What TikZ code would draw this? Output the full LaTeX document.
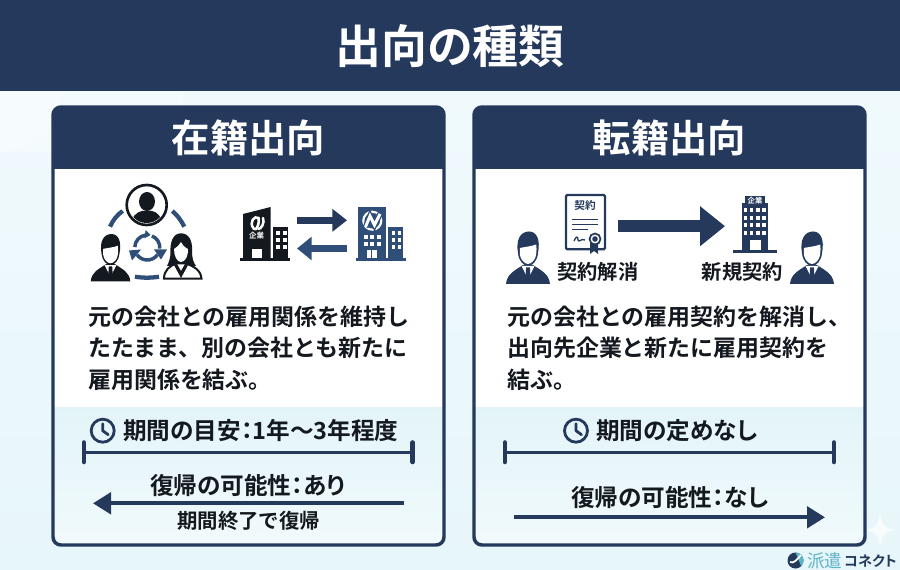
\documentclass[tikz,border=0pt]{standalone}
\usepackage{xcolor}
\usepackage{fontspec}
\setmainfont{Noto Sans CJK JP}[BoldFont={Noto Sans CJK JP Bold}]
\newfontfamily\jppalt{Noto Sans CJK JP Bold}[RawFeature={+palt}]
\usetikzlibrary{arrows.meta}
\definecolor{navy}{HTML}{24395C}
\definecolor{navyb}{HTML}{2F4F78}
\definecolor{ink}{HTML}{14181F}
\definecolor{pale}{HTML}{E7F6FA}
\definecolor{paletop}{HTML}{F0FAFD}
\definecolor{lowtop}{HTML}{E3F4F8}
\definecolor{lowend}{HTML}{F1FAFC}
\definecolor{tealog}{HTML}{5FB3C6}
\newcommand{\jpsize}[1]{\fontsize{#1}{#1}\selectfont}
\tikzset{
  bodytext/.style={anchor=west,inner sep=0pt,align=left,text=ink,font=\jpsize{17.2}\bfseries,execute at begin node={\setlength{\baselineskip}{23.6pt}}},
  midtext/.style={anchor=west,inner sep=0pt,text=ink,font=\jpsize{17.7}\jppalt},
  ruler/.style={navy,line width=2.6},
  tick/.style={navy,line width=3.4,line cap=round},
  thinarrow/.style={navy,line width=3,-{Triangle[length=13.5pt,width=16pt]}},
  ringarc/.style={navyb,line width=2.6},
  pics/busman/.style={code={
    \fill [#1] (-22,32) .. controls (-21,22) and (-14,19) .. (-5,13) -- (5,13) .. controls (14,19) and (21,22) .. (22,32) -- cycle ;
    \fill [#1] (-10,1) .. controls (-12.5,-13) and (-7,-20.5) .. (1,-20.5) .. controls (9,-20.5) and (12.5,-12) .. (10,1) .. controls (9.5,9) and (4,14) .. (0,14) .. controls (-4,14) and (-9.5,9) .. (-10,1) -- cycle ;
    \fill [white] (-8.2,-4) .. controls (-4,-5) and (3,-5.5) .. (8.2,-7.5) .. controls (8.8,-4) and (8.5,-2) .. (8.2,2) .. controls (7.8,8) and (3,12) .. (0,12) .. controls (-3,12) and (-7.8,8) .. (-8.2,2) -- cycle ;
    \fill [white] (-6.5,14) -- (6.5,14) -- (0,27) -- cycle ;
    \fill [#1] (-1.9,15.5) -- (1.9,15.5) -- (2.6,27) -- (0,31) -- (-2.6,27) -- cycle ;
  }},
  pics/clockicon/.style={code={
    \draw [navy,line width=2.1] (0,0) circle (11.5) ;
    \draw [navy,line width=2.1,line cap=round,line join=round] (0,-7) -- (0,0) -- (5.5,4) ;
  }},
}
\begin{document}
\begin{tikzpicture}[x=0.75pt,y=0.75pt,yscale=-1,xscale=1]
\useasboundingbox (0,0) rectangle (900,570);
%Shape: Background
\shade [top color=paletop,bottom color=pale] (0,91) rectangle (900,570);
\fill [white,opacity=0.3] (0,91) rectangle (183,152) ;
\fill [white,opacity=0.25] (0,91) -- (60,91) .. controls (60,130) and (30,152) .. (0,152) -- cycle ;
%Shape: Sparkle
\fill [white,opacity=0.75] (880,513) .. controls (881,524) and (884,529) .. (896,530) .. controls (884,531) and (881,536) .. (880,547) .. controls (879,536) and (876,531) .. (864,530) .. controls (876,529) and (879,524) .. (880,513) -- cycle ;
%Shape: Title band
\fill [navy] (0,0) rectangle (900,91);

%Left panel
\begin{scope}
\clip [rounded corners=6pt] (53,107) rectangle (444,545);
\fill [white] (53,107) rectangle (444,407);
\fill [navy] (53,107) rectangle (444,169);
\shade [top color=lowtop,bottom color=lowend] (53,407) rectangle (444,545);
\end{scope}
\draw [navy,line width=2.6,rounded corners=6pt] (53,107) rectangle (444,545);
%Right panel
\begin{scope}
\clip [rounded corners=6pt] (474,107) rectangle (865,545);
\fill [white] (474,107) rectangle (865,407);
\fill [navy] (474,107) rectangle (865,169);
\shade [top color=lowtop,bottom color=lowend] (474,407) rectangle (865,545);
\end{scope}
\draw [navy,line width=2.6,rounded corners=6pt] (474,107) rectangle (865,545);

%Three people, top person
\draw [ink,line width=2,fill=white] (146.7,205) circle (20) ;
\begin{scope}
\clip (146.7,205) circle (18) ;
\fill [ink] (147,201.5) ellipse (8 and 9.5) ;
\fill [ink] (130,228) .. controls (131,216) and (137,212) .. (142,211) -- (152,211) .. controls (157,212) and (162,216) .. (163,228) -- cycle ;
\end{scope}
%Ring dashes
\draw [navyb,line width=3.2] (110,226.7) .. controls (113,220) and (117,215) .. (122.7,211) ;
\draw [navyb,line width=3.2] (172.3,211) .. controls (177,215) and (181,220) .. (184.3,226.7) ;
\draw [navyb,line width=3.2] (135,276.7) .. controls (143,278) and (151,278) .. (159,276.7) ;
%Cycle arcs
\draw [ringarc] (147.3,247.5)++(182:12.5) arc [start angle=182,end angle=262,radius=12.5] ;
\draw [ringarc] (147.3,247.5)++(292:12.5) arc [start angle=292,end angle=365,radius=12.5] ;
\draw [ringarc] (147.3,247.5)++(35:12.5) arc [start angle=35,end angle=145,radius=12.5] ;
%Shape: Triangle
\fill [navyb] (145.7,230) -- (144.3,238.3) -- (150.7,235) -- cycle ;
\fill [navyb] (154,249.5) -- (167,249.5) -- (161,259.5) -- cycle ;
\fill [navyb] (129,250.5) -- (141,249.5) -- (132,260.5) -- cycle ;
%Man
\pic [transform shape,scale=0.9] at (110.5,252.5) {busman=ink};
%Woman
\fill [ink] (181,233.3) .. controls (173,233.3) and (170,242) .. (170.5,252) .. controls (170.5,258) and (169,262) .. (167,266) -- (196,266) .. controls (193,262) and (192,258) .. (192,250) .. controls (192.5,241) and (189,233.3) .. (181,233.3) -- cycle ;
\fill [white] (181,242) .. controls (178,247) and (175,248) .. (174,249) .. controls (174,256) and (177,262) .. (181,262) .. controls (185,262) and (188.5,256) .. (188,249) .. controls (186,248) and (183,246) .. (181,242) -- cycle ;
\draw [ink,line width=1.5,fill=white] (164,278.6) .. controls (164,270) and (170,266) .. (176,263.5) -- (186,263.5) .. controls (193,266) and (201,270) .. (201.5,278.6) -- cycle ;
\fill [ink] (174,265) -- (181,278) -- (188,265) -- (185,264) -- (181,271) -- (177,264) -- cycle ;

%Black building
\fill [ink] (243,214) -- (270.7,207) -- (270.7,258) -- (243,258) -- cycle ;
\fill [ink] (273,227) rectangle (288,258) ;
\fill [ink] (240,258) rectangle (290,261) ;
\fill [white] (252,249.5) rectangle (262,258) ;
\foreach \col in {276,283}
  \foreach \row in {231,238,245}
    \fill [white] (\col,\row) rectangle ++(3.5,4) ;
\draw [white,line width=1.9,line cap=round] (254,229) .. controls (248,222) and (255,215) .. (258.5,218) .. controls (259.5,222) and (258,227) .. (255.5,229.5) ;
\draw [white,line width=1.9,line cap=round] (258.5,229) .. controls (261,229) and (265,223) .. (263,218) ;
\node (logoA) [text=white,inner sep=0pt,font=\jpsize{5.6}\bfseries] at (256.7,236) {企業};
%Navy building
\fill [navyb] (358,207) rectangle (386,258) ;
\fill [navyb] (388,227) rectangle (403,258) ;
\fill [navyb] (356,258) rectangle (406,261) ;
\fill [white] (366.7,250) rectangle (376.7,258) ;
\draw [navyb,line width=1] (371.7,250) -- (371.7,258) ;
\foreach \col in {363.5,370,376.5}
  \foreach \row in {235,242}
    \fill [white] (\col,\row) rectangle ++(4,3.6) ;
\foreach \col in {391.5,398}
  \foreach \row in {231,238,245}
    \fill [white] (\col,\row) rectangle ++(3.2,4) ;
\draw [white,line width=1.6] (372.3,220.7) circle (9) ;
\draw [navyb,line width=4.2] (365.5,227) -- (370,216) -- (374.5,225) -- (380,214) ;
\draw [white,line width=2.2] (365.5,227) -- (370,216) -- (374.5,225) -- (380,214) ;
%Exchange arrows
\coordinate (exAa) at (297,220.3);
\coordinate (exAb) at (347,220.3);
\coordinate (exBa) at (347,248.5);
\coordinate (exBb) at (297,248.5);
\draw [navy,line width=5.6,-{Triangle[length=11pt,width=16.5pt]}] (exAa) -- (exAb) ;
\draw [navyb,line width=5.6,-{Triangle[length=11pt,width=17pt]}] (exBa) -- (exBb) ;

%Contract sheet
\draw [navy,line width=1.7,rounded corners=1pt,fill=white] (566,195) rectangle (605,249.3) ;
\node (sheetlabel) [text=navy,inner sep=0pt,font=\jpsize{8}\bfseries] at (585,205) {契約};
\foreach \row/\rowend in {219.5/598,224.5/598,229.5/588}
  \draw [navy,line width=1.2] (571.7,\row) -- (\rowend,\row) ;
\draw [navy,line width=1] (574,241) .. controls (576,236) and (578,236) .. (578,240) .. controls (579,243) and (581,238) .. (585,240) ;
\fill [navy] (590,243) -- (590,254) -- (594,251) -- (598,254) -- (598,243) -- cycle ;
\draw [navy,line width=1.3,fill=white] (595,239) circle (5.5) ;
\fill [navy] (595,239) circle (2.8) ;
%Long arrow
\coordinate (bigA) at (618,226.2);
\coordinate (bigB) at (725,226.2);
\draw [navy,line width=9.2,-{Triangle[length=18.7pt,width=28.8pt]}] (bigA) -- (bigB) ;
%Tower
\fill [navy] (745,196) rectangle (765,204) ;
\fill [navy] (741.7,203) rectangle (768.3,250) ;
\fill [navy] (733,250) rectangle (776.7,253) ;
\fill [white] (749.5,240) rectangle (761,250) ;
\foreach \col in {743.5,749.7,755.9,762.1}
  \foreach \row in {208.5,216,223.5,231}
    \fill [white] (\col,\row) rectangle ++(3.6,3.8) ;
\node (towerlabel) [text=white,inner sep=0pt,font=\jpsize{5.5}\bfseries] at (755,200.5) {企業};
%Men
\pic [transform shape] at (528,252) {busman=navy};
\pic [transform shape] at (812,252) {busman=navy};

% Text Node
\node (title) [text=white,inner sep=0pt,font=\jpsize{34.4}\bfseries] at (450,46) {出向の種類};
\node (headL) [text=white,inner sep=0pt,font=\jpsize{28.8}\bfseries] at (248.5,138) {在籍出向};
\node (headR) [text=white,inner sep=0pt,font=\jpsize{28.8}\bfseries] at (669.5,138) {転籍出向};
\node (bodyL) [bodytext] at (88,348) {元の会社との雇用関係を維持し\\たたまま、別の会社とも新たに\\雇用関係を結ぶ。};
\node (bodyR) [bodytext] at (507,348) {元の会社との雇用契約を解消し、\\出向先企業と新たに雇用契約を\\結ぶ。};
\node (cancel) [inner sep=0pt,anchor=west,text=ink,font=\jpsize{15.2}\bfseries] at (557,271.7) {契約解消};
\node (newdeal) [inner sep=0pt,anchor=west,text=ink,font=\jpsize{15.2}\bfseries] at (701.7,271.7) {新規契約};

%Left footer
\pic [transform shape] at (102.7,430.7) {clockicon};
\node (termL) [midtext] at (123,431) {期間の目安：1年〜3年程度};
\coordinate (rulLa) at (84,452.3);
\coordinate (rulLb) at (412.7,452.3);
\draw [ruler] (rulLa) -- (rulLb) ;
\draw [tick] (84,442.5) -- (84,462) ;
\draw [tick] (412.7,442.5) -- (412.7,462) ;
\node (backL) [midtext] at (150,485) {復帰の可能性：あり};
\coordinate (backLa) at (404,503.3);
\coordinate (backLb) at (93,503.3);
\draw [thinarrow] (backLa) -- (backLb) ;
\node (endL) [inner sep=0pt,anchor=west,text=ink,font=\jpsize{15.3}\bfseries] at (177,521) {期間終了で復帰};

%Right footer
\pic [transform shape] at (576,430.7) {clockicon};
\node (termR) [midtext] at (596,431) {期間の定めなし};
\coordinate (rulRa) at (505,452.3);
\coordinate (rulRb) at (834,452.3);
\draw [ruler] (rulRa) -- (rulRb) ;
\draw [tick] (505,442.5) -- (505,462) ;
\draw [tick] (834,442.5) -- (834,462) ;
\node (backR) [midtext] at (571,497) {復帰の可能性：なし};
\coordinate (backRa) at (514,517.3);
\coordinate (backRb) at (825,517.3);
\draw [thinarrow] (backRa) -- (backRb) ;

%Brand mark
\fill [navy] (795.5,560.5) circle (8) ;
\fill [tealog] (795.5,552.5) arc [start angle=270,end angle=405,radius=8] -- cycle ;
\draw [white,line width=1.3] (790,562) .. controls (793,564) and (797,560) .. (801,555) ;
\node (brandA) [inner sep=0pt,anchor=west,text=tealog,font=\jpsize{13.2}] at (807,560.5) {派遣};
\node (brandB) [inner sep=0pt,anchor=west,text=navy,font=\jpsize{10.6}\jppalt] at (844,561.5) {コネクト};
\end{tikzpicture}
\end{document}
